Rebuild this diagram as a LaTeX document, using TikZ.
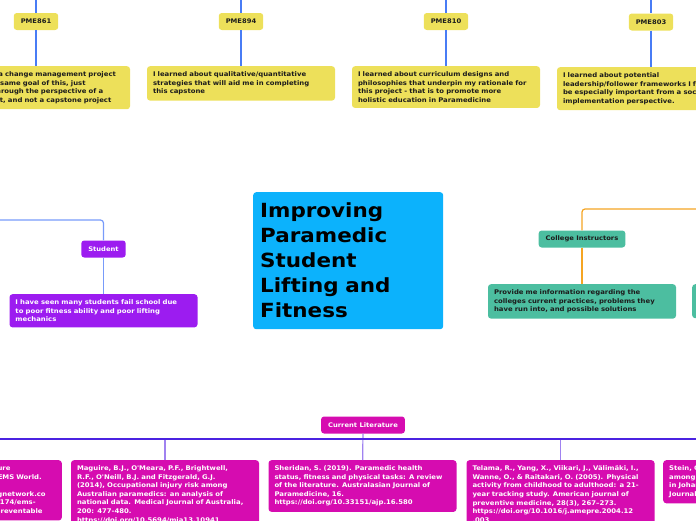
\documentclass[tikz,border=0pt]{standalone}
\usepackage{fontspec}
\setmainfont{DejaVu Sans}
\newfontfamily\mapfont{DejaVu Sans}[FakeStretch=1.075]
\newfontfamily\topicfont{DejaVu Sans}[FakeStretch=1.1]
\definecolor{mapyellow}{RGB}{237,224,90}
\definecolor{mapteal}{RGB}{76,190,160}
\definecolor{mappurple}{RGB}{156,28,240}
\definecolor{mapmagenta}{RGB}{214,12,176}
\definecolor{mapblue}{RGB}{12,178,252}
\definecolor{mapink}{RGB}{28,28,28}
\definecolor{linkblue}{RGB}{72,124,245}
\definecolor{linklight}{RGB}{120,155,250}
\definecolor{linkorange}{RGB}{245,165,35}
\definecolor{linkviolet}{RGB}{75,35,225}
\definecolor{linklavender}{RGB}{160,130,240}

\begin{document}
\begin{tikzpicture}[x=1pt,y=-1pt,
  tag/.style={rounded corners=3pt,font=\mapfont\fontsize{6.3}{8}\selectfont\bfseries,inner xsep=7pt,inner ysep=0pt,minimum height=17pt},
  note/.style={rounded corners=3pt,font=\mapfont\fontsize{6.4}{8.6}\selectfont\bfseries,text width=176pt,inner xsep=6pt,inner ysep=5.5pt,align=left,anchor=north},
  link/.style={line width=1.2pt}]

  \useasboundingbox (0,0) rectangle (696,520);
  \clip (0,0) rectangle (696,520);

  % courses on top
  \coordinate (top861) at (36,0);
  \coordinate (top894) at (241,0);
  \coordinate (top810) at (446,0);
  \coordinate (top803) at (651,0);

  \node[tag,fill=mapyellow,text=mapink] (pme861) at (36,21.5) {PME861};
  \node[tag,fill=mapyellow,text=mapink] (pme894) at (241,21.5) {PME894};
  \node[tag,fill=mapyellow,text=mapink] (pme810) at (446,21.5) {PME810};
  \node[tag,fill=mapyellow,text=mapink] (pme803) at (651,22) {PME803};

  \node[note,fill=mapyellow,text=mapink] (txt861) at (36,66) {I worked out a change management project\\ that held the same goal of this, just\\ but viewed through the perspective of a\\ IT department, and not a capstone project};
  \node[note,fill=mapyellow,text=mapink] (txt894) at (241,66) {I learned about qualitative/quantitative\\ strategies that will aid me in completing\\ this capstone};
  \node[note,fill=mapyellow,text=mapink] (txt810) at (446,66) {I learned about curriculum designs and\\ philosophies that underpin my rationale for\\ this project - that is to promote more\\ holistic education in Paramedicine};
  \node[note,fill=mapyellow,text=mapink] (txt803) at (651,67) {I learned about potential\\ leadership/follower frameworks I feel will\\ be especially important from a social\\ implementation perspective.};

  \path[link,draw=linkblue]
   (top861) edge (pme861)
   (pme861) edge (txt861)
   (top894) edge (pme894)
   (pme894) edge (txt894)
   (top810) edge (pme810)
   (pme810) edge (txt810)
   (top803) edge (pme803)
   (pme803) edge (txt803);

  % central topic
  \node[rounded corners=3pt,fill=mapblue,text=black,font=\topicfont\fontsize{19.5}{25}\selectfont\bfseries,
    minimum width=190pt,minimum height=137pt,text width=176pt,inner xsep=7pt,align=left,anchor=north west] (topic) at (253,192)
    {Improving\\ Paramedic\\ Student\\ Lifting and\\ Fitness};

  % student branch
  \coordinate (stuin) at (0,220);
  \node[tag,fill=mappurple,text=white] (student) at (103.5,249) {Student};
  \node[note,fill=mappurple,text=white] (stutxt) at (103.5,294) {I have seen many students fail school due\\ to poor fitness ability and poor lifting\\ mechanics};
  \draw[link,draw=linklight,rounded corners=3pt] (stuin) -| (student);
  \draw[link,draw=linklight] (student) -- (stutxt);

  % college branch
  \coordinate (colin) at (696,209);
  \node[tag,fill=mapteal,text=mapink] (college) at (582,239) {College Instructors};
  \node[note,fill=mapteal,text=mapink] (coltxt) at (582,284) {Provide me information regarding the\\ colleges current practices, problems they\\ have run into, and possible solutions};
  \node[note,fill=mapteal,anchor=north west,minimum height=34pt] (coltxt2) at (692,284) {};
  \draw[link,draw=linkorange,rounded corners=3pt] (colin) -| (college);
  \draw[link,draw=linkorange] (college) -- (coltxt);

  % literature branch
  \coordinate (litleft) at (0,439);
  \coordinate (litright) at (696,439);
  \node[tag,fill=mapmagenta,text=white] (lit) at (363,425) {Current Literature};

  \node[note,fill=mapmagenta,text=white,anchor=north east] (ref1) at (62,460) {Ryan, D.J., (2019). Lifting Posture\\ Tasks, with Injury Prevention. EMS World.\\ Retrieved from\\ https://www.hmpgloballearningnetwork.co\\ m/site/ems-world/articles/1221174/ems-\\ lifting-injuries-are-commonly-preventable};
  \node[note,fill=mapmagenta,text=white] (ref2) at (165,460) {Maguire, B.J., O'Meara, P.F., Brightwell,\\ R.F., O'Neill, B.J. and Fitzgerald, G.J.\\ (2014), Occupational injury risk among\\ Australian paramedics: an analysis of\\ national data. Medical Journal of Australia,\\ 200: 477-480.\\ https://doi.org/10.5694/mja13.10941};
  \node[note,fill=mapmagenta,text=white] (ref3) at (362.5,460) {Sheridan, S. (2019). Paramedic health\\ status, fitness and physical tasks: A review\\ of the literature. Australasian Journal of\\ Paramedicine, 16.\\ https://doi.org/10.33151/ajp.16.580};
  \node[note,fill=mapmagenta,text=white] (ref4) at (560.5,460) {Telama, R., Yang, X., Viikari, J., Välimäki, I.,\\ Wanne, O., \& Raitakari, O. (2005). Physical\\ activity from childhood to adulthood: a 21-\\ year tracking study. American journal of\\ preventive medicine, 28(3), 267–273.\\ https://doi.org/10.1016/j.amepre.2004.12\\ .003};
  \node[note,fill=mapmagenta,text=white,anchor=north west] (ref5) at (663,460) {Stein, C. (2016). Injuries\\ among emergency care workers\\ in Johannesburg. African\\ Journal of Emergency Medicine};

  \path[link,draw=linklavender]
   (lit) edge (ref3)
   (ref2 |- litleft) edge (ref2)
   (ref4 |- litleft) edge (ref4);
  \draw[link,draw=linkviolet] (litleft) -- (litright);
\end{tikzpicture}
\end{document}
